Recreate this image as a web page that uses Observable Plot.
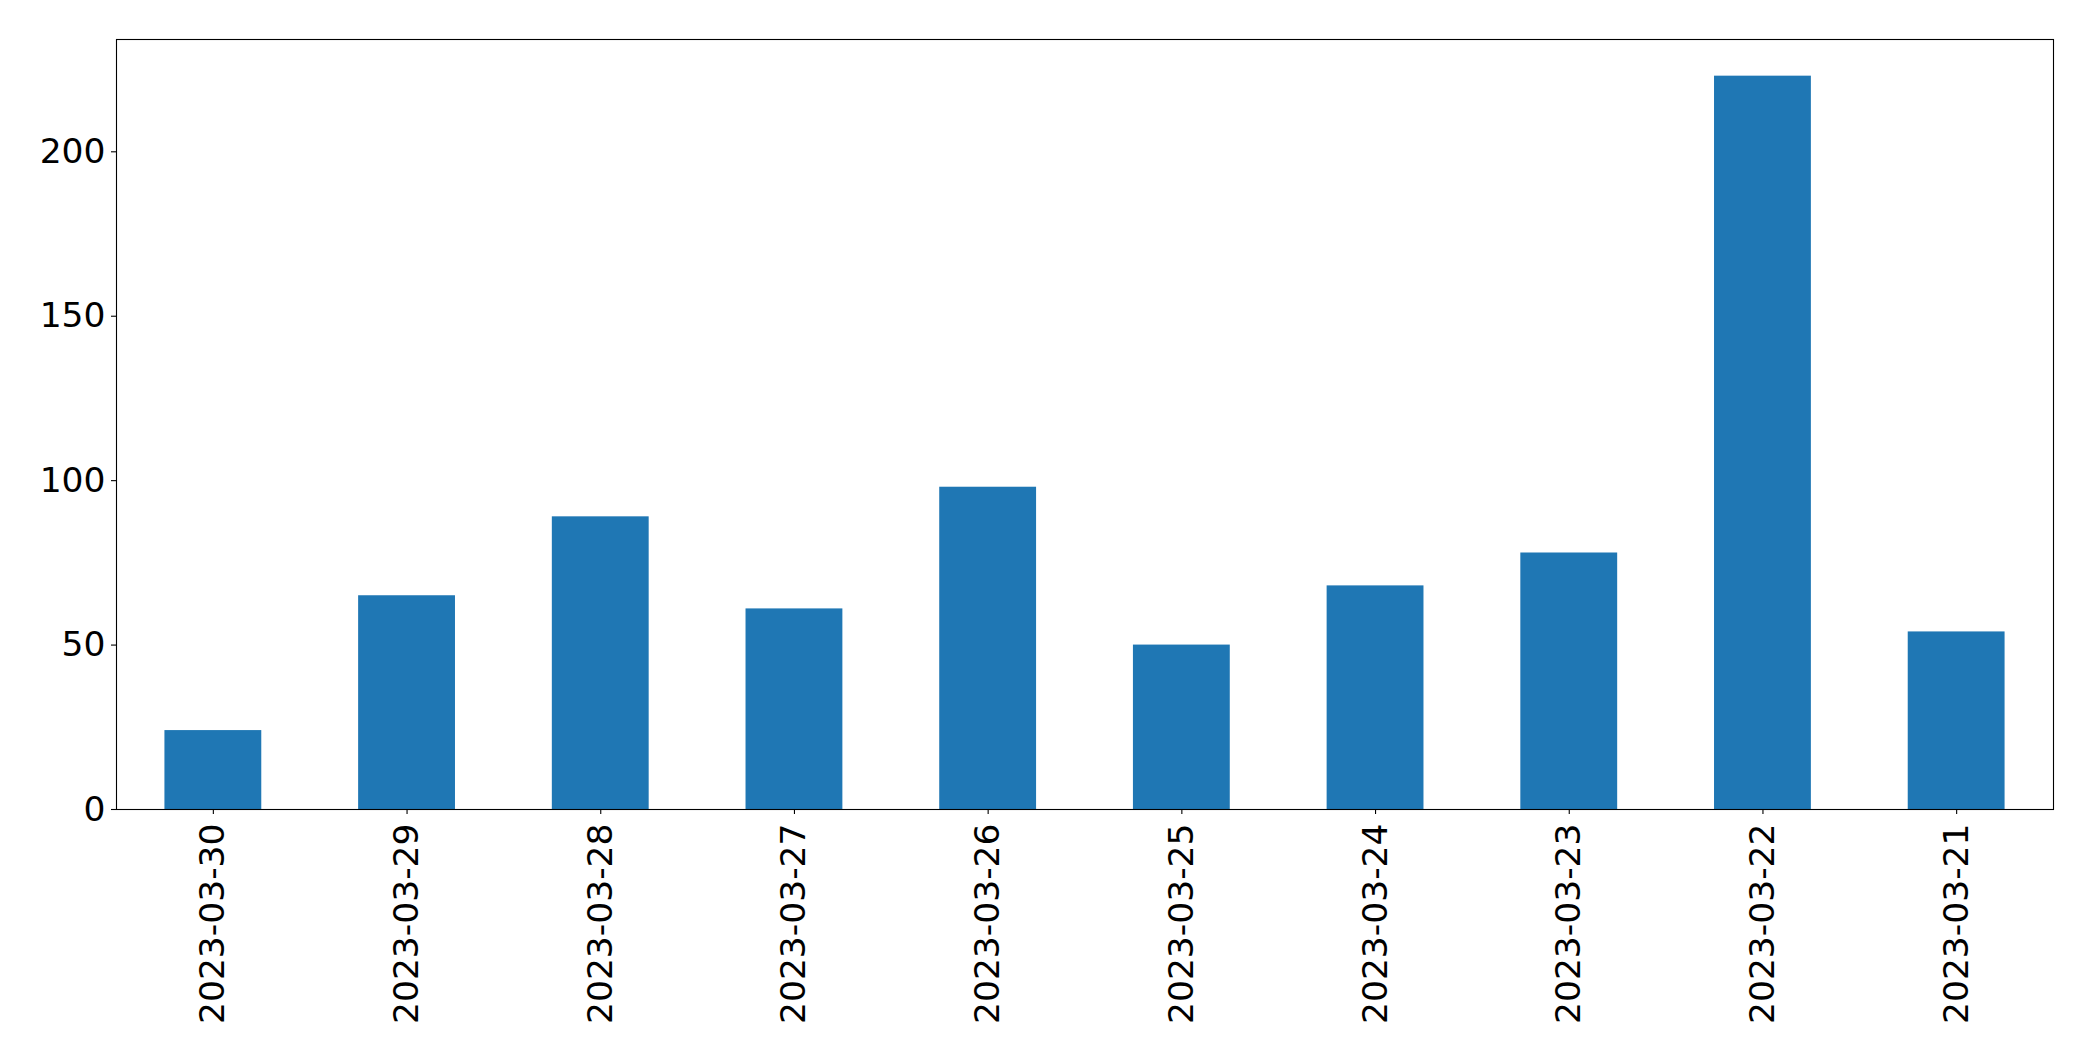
<!DOCTYPE html>
<html>
<head>
<meta charset="utf-8">
<script src="https://cdn.jsdelivr.net/npm/d3@7"></script>
<script src="https://cdn.jsdelivr.net/npm/@observablehq/plot@0.6"></script>
<style>
  html, body { margin: 0; padding: 0; background: #fff; }
  #chart svg { display: block; }
</style>
</head>
<body>
<div id="chart"></div>
<script>
const dates = ["2023-03-30","2023-03-29","2023-03-28","2023-03-27","2023-03-26","2023-03-25","2023-03-24","2023-03-23","2023-03-22","2023-03-21"];
const counts = [24, 65, 89, 61, 98, 50, 68, 78, 223, 54];
const yTicks = [0, 50, 100, 150, 200];

const data = dates.map((d, i) => ({date: d, count: counts[i]}));
const yMax = d3.max(counts) * 1.05;

const chart = Plot.plot({
  width: 2093,
  height: 1061,
  marginLeft: 116,
  marginRight: 40,
  marginTop: 39,
  marginBottom: 252,
  style: {fontFamily: "DejaVu Sans", fontSize: "34.5px", color: "#000", background: "#fff"},
  x: {domain: dates, paddingInner: 0.5, paddingOuter: 0.25, round: false, label: null},
  y: {domain: [0, yMax], label: null},
  marks: [
    Plot.barY(data, {x: "date", y: "count", fill: "#1f77b4"}),
    Plot.frame({stroke: "#000", strokeWidth: 1.1}),
    Plot.axisY({ticks: yTicks, tickSize: 5, tickPadding: 6, fontSize: 34.5, label: null, stroke: "#000", strokeWidth: 1.1}),
    Plot.axisX({tickSize: 5, tickPadding: 9, fontSize: 34.5, tickRotate: -90, label: null, stroke: "#000", strokeWidth: 1.1})
  ]
});
document.getElementById("chart").appendChild(chart);
</script>
</body>
</html>
